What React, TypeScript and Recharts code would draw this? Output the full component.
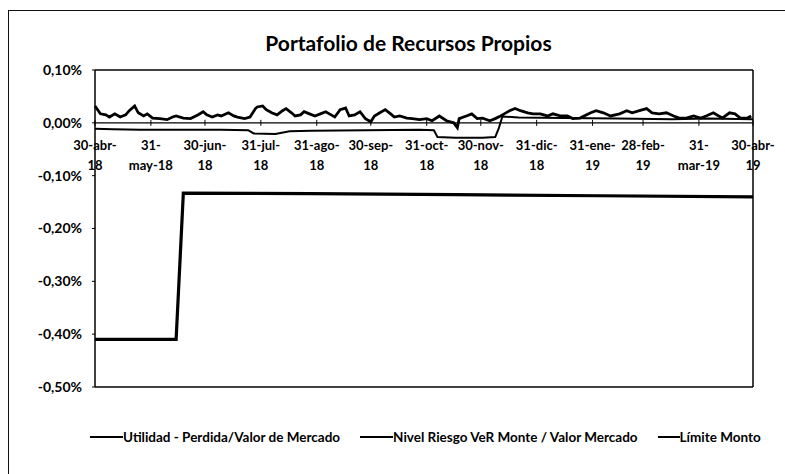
import React from 'react';
import { LineChart, Line, XAxis, YAxis, ReferenceLine } from 'recharts';

// ---- data ----
const tickDays = [0, 31, 61, 92, 123, 153, 184, 214, 245, 276, 304, 335, 365];
const tickTop = ['30-abr-', '31-', '30-jun-', '31-jul-', '31-ago-', '30-sep-', '31-oct-', '30-nov-', '31-dic-', '31-ene-', '28-feb-', '31-', '30-abr-'];
const tickBottom = ['18', 'may-18', '18', '18', '18', '18', '18', '18', '18', '19', '19', 'mar-19', '19'];
const yTicks = [0.1, 0, -0.1, -0.2, -0.3, -0.4, -0.5];

const seriesNames = [
  'Utilidad - Perdida/Valor de Mercado',
  'Nivel Riesgo VeR Monte / Valor Mercado',
  'Límite Monto',
];

// Utilidad - Perdida / Valor de Mercado (%), day offsets from 30-abr-18
const utilDays = [0, 3, 6, 8, 11, 14, 17, 19, 22, 24, 27, 29, 32, 36, 40, 43, 45, 49, 53, 57, 60, 62, 65, 68, 70, 74, 77, 79, 83, 86, 89, 90, 93, 95, 98, 101, 104, 106, 109, 111, 114, 116, 119, 122, 125, 128, 130, 133, 136, 139, 141, 144, 147, 150, 153, 155, 158, 161, 164, 166, 169, 173, 176, 180, 184, 187, 191, 195, 199, 201, 202, 206, 209, 212, 215, 219, 222, 225, 227, 230, 233, 236, 240, 243, 247, 251, 254, 258, 262, 265, 269, 275, 278, 282, 286, 291, 295, 298, 302, 306, 309, 313, 317, 321, 324, 328, 332, 336, 339, 343, 346, 348, 352, 355, 358, 362, 364];
const utilValues = [0.032, 0.017, 0.015, 0.011, 0.017, 0.011, 0.015, 0.023, 0.032, 0.019, 0.013, 0.017, 0.009, 0.008, 0.006, 0.011, 0.013, 0.009, 0.008, 0.015, 0.021, 0.015, 0.011, 0.015, 0.013, 0.019, 0.013, 0.011, 0.008, 0.011, 0.027, 0.030, 0.032, 0.025, 0.019, 0.015, 0.023, 0.027, 0.019, 0.013, 0.015, 0.021, 0.017, 0.013, 0.017, 0.021, 0.017, 0.011, 0.025, 0.028, 0.013, 0.015, 0.021, 0.008, 0.002, 0.013, 0.019, 0.025, 0.017, 0.011, 0.013, 0.009, 0.008, 0.006, 0.008, 0.004, 0.013, 0.004, 0.000, -0.009, 0.008, 0.013, 0.017, 0.008, 0.009, 0.004, 0.008, 0.013, 0.017, 0.023, 0.027, 0.023, 0.019, 0.017, 0.017, 0.013, 0.017, 0.013, 0.013, 0.008, 0.009, 0.019, 0.023, 0.019, 0.013, 0.017, 0.023, 0.019, 0.023, 0.027, 0.019, 0.017, 0.019, 0.013, 0.009, 0.009, 0.013, 0.009, 0.013, 0.019, 0.013, 0.009, 0.019, 0.017, 0.009, 0.009, 0.013];

// Nivel Riesgo VeR Monte / Valor Mercado (%)
const riskDays = [0, 45, 49, 120, 200, 280, 365];
const riskValues = [-0.41, -0.41, -0.133, -0.134, -0.136, -0.138, -0.14];

// Límite Monto (%)
const limitDays = [0, 10, 25, 45, 70, 85, 88, 100, 108, 120, 150, 180, 188, 190, 200, 215, 222, 224, 226, 235, 260, 290, 320, 340, 365];
const limitValues = [-0.011, -0.012, -0.013, -0.013, -0.013, -0.014, -0.020, -0.021, -0.016, -0.015, -0.014, -0.013, -0.014, -0.027, -0.028, -0.028, -0.027, -0.010, 0.012, 0.010, 0.009, 0.008, 0.007, 0.008, 0.007];

const utilData = utilDays.map((d, i) => ({ d, v: utilValues[i] }));
const riskData = riskDays.map((d, i) => ({ d, v: riskValues[i] }));
const limitData = limitDays.map((d, i) => ({ d, v: limitValues[i] }));

// ---- layout ----
const W = 785;
const H = 474;
const M = { top: 69, right: 31, bottom: 86, left: 0 };
const PLOT_TOP = M.top + 1;
const PLOT_BOTTOM = H - M.bottom - 1;
const ZERO_Y = PLOT_TOP + ((0.1 - 0) / 0.6) * (PLOT_BOTTOM - PLOT_TOP);
const FONT = 'Lato, "Open Sans", sans-serif';

const fmtPct = (v: number) => v.toFixed(2).replace('.', ',') + '%';

const XTick = (props: any) => {
  const { x, payload } = props;
  const i = tickDays.indexOf(payload.value);
  return (
    <g>
      <line x1={x} x2={x} y1={ZERO_Y - 3} y2={ZERO_Y + 3} stroke="#000" strokeWidth={1} />
      <text x={x} y={ZERO_Y + 27} textAnchor="middle" fontFamily={FONT} fontWeight={700} fontSize={13} fill="#000">
        {tickTop[i]}
      </text>
      <text x={x} y={ZERO_Y + 47} textAnchor="middle" fontFamily={FONT} fontWeight={700} fontSize={13} fill="#000">
        {tickBottom[i]}
      </text>
    </g>
  );
};

const swatchWidths = [33, 33, 22];
const seriesWidths = [2.8, 3.2, 2];

export default function App() {
  return (
    <div style={{ position: 'absolute', left: 0, top: 0, width: W, height: H, overflow: 'hidden', background: '#fff' }}>
      <div style={{ position: 'absolute', left: 8, top: 10, width: 820, height: 520, border: '1.5px solid #111', boxSizing: 'border-box' }} />
      <div
        style={{
          position: 'absolute', left: 16, top: 30, width: W, textAlign: 'center',
          fontFamily: FONT, fontWeight: 700, fontSize: 21, color: '#000', lineHeight: '26px',
        }}
      >
        Portafolio de Recursos Propios
      </div>
      <div style={{ position: 'absolute', left: 0, top: 0 }}>
        <LineChart width={W} height={H} margin={M}>
          <XAxis
            xAxisId="main"
            dataKey="d"
            type="number"
            domain={[0, 365]}
            ticks={tickDays}
            interval={0}
            height={1}
            axisLine={{ stroke: '#000', strokeWidth: 1.5 }}
            tickLine={false}
            tick={(p: any) => <XTick {...p} />}
          />
          <XAxis
            xAxisId="top"
            orientation="top"
            dataKey="d"
            type="number"
            domain={[0, 365]}
            height={1}
            tick={false}
            tickLine={false}
            axisLine={{ stroke: '#000', strokeWidth: 1.5 }}
          />
          <YAxis
            yAxisId="left"
            type="number"
            domain={[-0.5, 0.1]}
            ticks={yTicks}
            interval={0}
            width={95}
            tickFormatter={fmtPct}
            tickSize={3}
            tickMargin={10}
            axisLine={{ stroke: '#000', strokeWidth: 1.5 }}
            tickLine={{ stroke: '#000' }}
            tick={{ fontFamily: FONT, fontWeight: 700, fontSize: 14, fill: '#000' }}
          />
          <YAxis
            yAxisId="right"
            orientation="right"
            type="number"
            domain={[-0.5, 0.1]}
            width={1}
            tick={false}
            tickLine={false}
            axisLine={{ stroke: '#000', strokeWidth: 1.5 }}
          />
          <ReferenceLine xAxisId="main" yAxisId="left" y={0} stroke="#000" strokeWidth={1.2} />
          <Line
            xAxisId="main" yAxisId="left" data={riskData} dataKey="v" name={seriesNames[1]}
            stroke="#000" strokeWidth={seriesWidths[1]} dot={false} isAnimationActive={false} type="linear"
          />
          <Line
            xAxisId="main" yAxisId="left" data={limitData} dataKey="v" name={seriesNames[2]}
            stroke="#000" strokeWidth={seriesWidths[2]} dot={false} isAnimationActive={false} type="linear"
          />
          <Line
            xAxisId="main" yAxisId="left" data={utilData} dataKey="v" name={seriesNames[0]}
            stroke="#000" strokeWidth={seriesWidths[0]} dot={false} isAnimationActive={false} type="linear"
          />
        </LineChart>
      </div>
      <div
        style={{
          position: 'absolute', left: 90, top: 428, display: 'flex', alignItems: 'center', gap: 20,
          fontFamily: FONT, fontWeight: 700, fontSize: 13.5, color: '#000', whiteSpace: 'nowrap', lineHeight: '18px',
        }}
      >
        {seriesNames.map((n, i) => (
          <div key={n} style={{ display: 'flex', alignItems: 'center' }}>
            <div style={{ width: swatchWidths[i], height: 2.5, background: '#000' }} />
            <span>{n}</span>
          </div>
        ))}
      </div>
    </div>
  );
}
